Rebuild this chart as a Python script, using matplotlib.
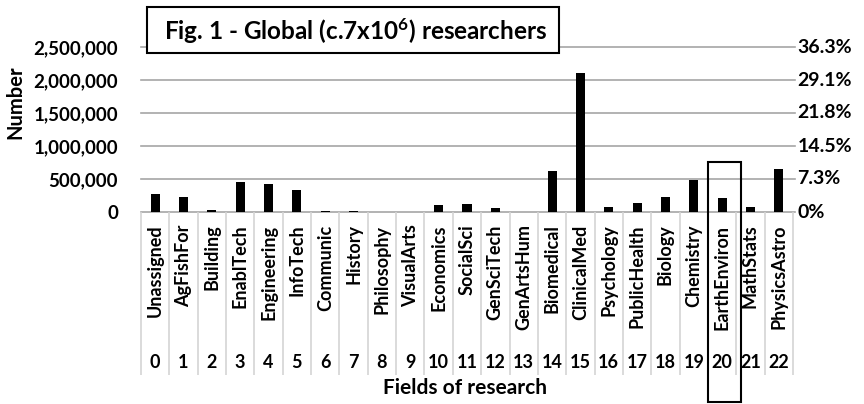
import numpy as np
import matplotlib
matplotlib.use("Agg")
import matplotlib.pyplot as plt
from matplotlib.patches import Rectangle

plt.rcParams['font.family'] = ['Lato', 'DejaVu Sans']
plt.rcParams['font.weight'] = 'bold'
plt.rcParams['mathtext.fontset'] = 'custom'
plt.rcParams['mathtext.rm'] = 'Lato:bold'
plt.rcParams['mathtext.default'] = 'rm'

# researchers per field
fields = ["Unassigned", "AgFishFor", "Building", "EnablTech", "Engineering",
          "InfoTech", "Communic", "History", "Philosophy", "VisualArts",
          "Economics", "SocialSci", "GenSciTech", "GenArtsHum", "Biomedical",
          "ClinicalMed", "Psychology", "PublicHealth", "Biology", "Chemistry",
          "EarthEnviron", "MathStats", "PhysicsAstro"]
counts = [280000, 233000, 35000, 462000, 431000, 335000, 15000, 15000, 3000,
          2000, 100000, 116000, 66000, 5000, 625000, 2113000, 81000, 137000,
          233000, 492000, 218000, 81000, 655000]
yticks = [0, 500000, 1000000, 1500000, 2000000, 2500000]
pct_labels = ["0%", "7.3%", "14.5%", "21.8%", "29.1%", "36.3%"]
highlight = 20

fig = plt.figure(figsize=(8.64, 4.04), dpi=100)
W, H = 864, 404
ax = fig.add_axes([141 / W, (H - 212) / H, (795 - 141) / W, (212 - 47) / H])

n = len(fields)
x = np.arange(n)
cw = (793 - 141) / n
ax.set_xlim(-0.5, n - 0.5 + 2 / cw)
ax.set_ylim(0, 2500000)
px = 2500000 / 165.0  # data units per pixel

for t in yticks:
    ax.axhline(t, color="#a6a6a6", lw=1.2, zorder=1, clip_on=False)

ax.bar(x, counts, width=0.32, color="black", zorder=3)

# category separators below the axis
ax.vlines(np.arange(n + 1) - 0.5, -163 * px, 0, color="#d4d4d4", lw=1.2, clip_on=False)

ax.set_xticks(x)
ax.set_xticklabels(fields, rotation=90, va="top", ha="center", fontsize=13)
ax.tick_params(axis="x", length=0, pad=9)
ax.set_yticks(yticks)
ax.set_yticklabels(["{:,}".format(t) for t in yticks], fontsize=13.5)
ax.tick_params(axis="y", length=0, pad=16.5)
for s in ax.spines.values():
    s.set_visible(False)

for i in x:
    ax.text(i, -151 * px, str(i), ha="center", va="center", fontsize=13, clip_on=False)

for t, lab in zip(yticks, pct_labels):
    ax.text(1.004, t, lab, transform=ax.get_yaxis_transform(), ha="left",
            va="center", fontsize=14)

# highlight box around EarthEnviron
ax.add_patch(Rectangle((highlight - 0.5, -190 * px), 33 / cw, 240 * px,
                       fill=False, ec="black", lw=1.5, clip_on=False, zorder=4))

fig.text(15 / W, 1 - 102 / H, "Number", rotation=90, ha="center", va="center", fontsize=14.5)
fig.text(465 / W, 1 - 388 / H, "Fields of research", ha="center", va="center", fontsize=15)

# title box
fig.patches.append(Rectangle((147 / W, 1 - 53 / H), (559 - 147) / W, 46 / H,
                             transform=fig.transFigure, fc="white", ec="black", lw=1.5,
                             zorder=5))
fig.text(356 / W, 1 - 31 / H, "Fig. 1 - Global (c.7x10$^{6}$) researchers",
         ha="center", va="center", fontsize=17.5, zorder=6)

fig.savefig("out.png", dpi=100)
